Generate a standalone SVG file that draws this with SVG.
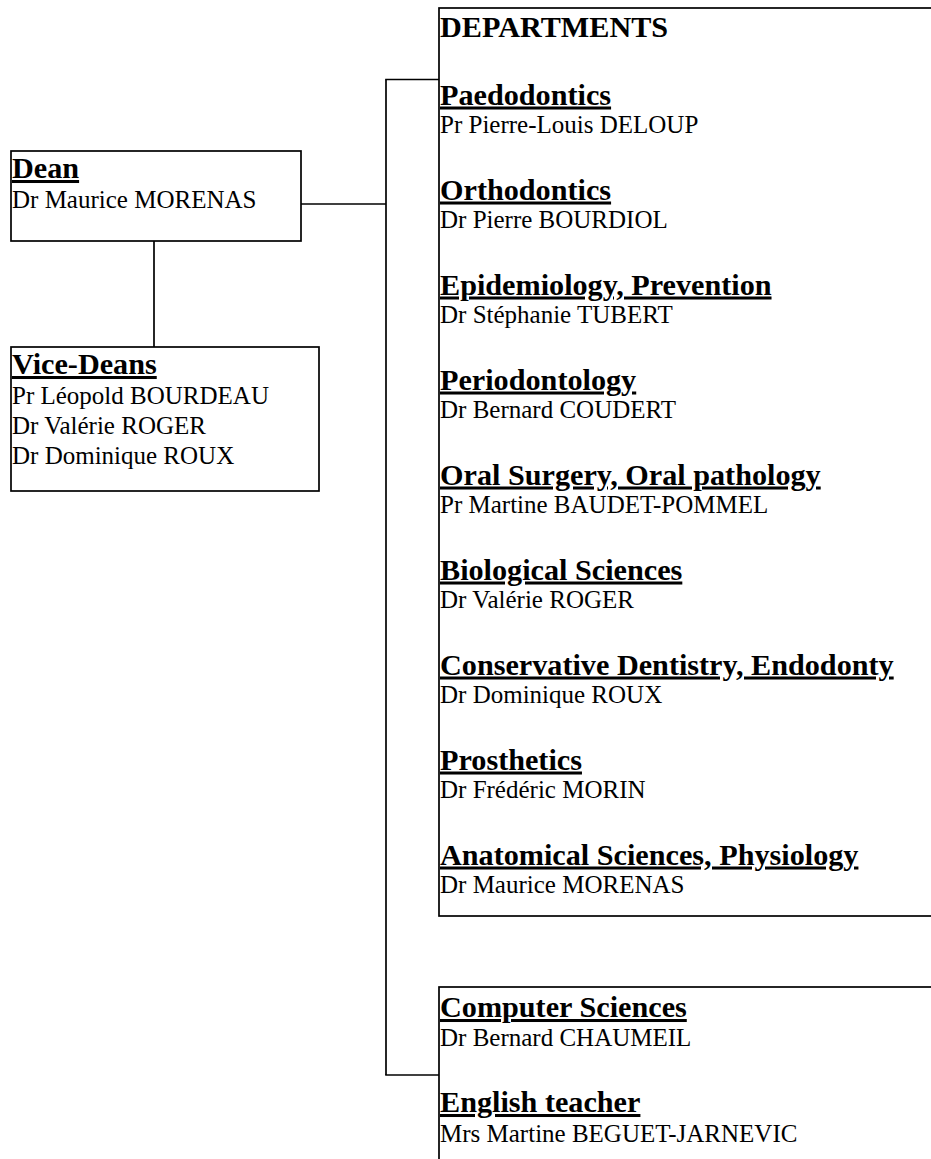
<svg xmlns="http://www.w3.org/2000/svg" width="931" height="1159" viewBox="0 0 931 1159">
<style>
.box{fill:#fff;stroke:#000;stroke-width:1.7}
.conn line{stroke:#000;stroke-width:1.7}
text{font-family:"Liberation Serif","Times New Roman",serif;fill:#000}
.h{font-weight:bold;font-size:30.2px;text-decoration:underline;text-decoration-thickness:3px;text-underline-offset:2px}
.t{font-weight:bold;font-size:30.2px}
.n{font-size:25px}
</style>
<rect width="931" height="1159" fill="#fff"/>
<g id="connectors" class="conn">
<line x1="154" y1="241" x2="154" y2="347"/>
<line x1="297" y1="204" x2="386" y2="204"/>
<line x1="386" y1="79.5" x2="386" y2="1075"/>
<line x1="385.2" y1="79.5" x2="439" y2="79.5"/>
<line x1="385.2" y1="1075" x2="439" y2="1075"/>
</g>
<g id="dean">
<rect class="box" x="11" y="151" width="290" height="90"/>
<text class="h" x="12" y="178">Dean</text>
<text class="n" x="12" y="208">Dr Maurice MORENAS</text>
</g>
<g id="vice-deans">
<rect class="box" x="11" y="347" width="308" height="144"/>
<text class="h" x="12" y="374">Vice-Deans</text>
<text class="n" x="12" y="404">Pr Léopold BOURDEAU</text>
<text class="n" x="12" y="434">Dr Valérie ROGER</text>
<text class="n" x="12" y="464">Dr Dominique ROUX</text>
</g>
<g id="departments">
<rect class="box" x="439" y="8" width="600" height="908"/>
<text class="t" x="440" y="37">DEPARTMENTS</text>
<text class="h" x="440" y="104.5">Paedodontics</text>
<text class="n" x="440" y="133">Pr Pierre-Louis DELOUP</text>
<text class="h" x="440" y="199.5">Orthodontics</text>
<text class="n" x="440" y="228">Dr Pierre BOURDIOL</text>
<text class="h" x="440" y="294.5">Epidemiology, Prevention</text>
<text class="n" x="440" y="323">Dr Stéphanie TUBERT</text>
<text class="h" x="440" y="389.5">Periodontology</text>
<text class="n" x="440" y="418">Dr Bernard COUDERT</text>
<text class="h" x="440" y="484.5">Oral Surgery, Oral pathology</text>
<text class="n" x="440" y="513">Pr Martine BAUDET-POMMEL</text>
<text class="h" x="440" y="579.5">Biological Sciences</text>
<text class="n" x="440" y="608">Dr Valérie ROGER</text>
<text class="h" x="440" y="674.5">Conservative Dentistry, Endodonty</text>
<text class="n" x="440" y="703">Dr Dominique ROUX</text>
<text class="h" x="440" y="769.5">Prosthetics</text>
<text class="n" x="440" y="798">Dr Frédéric MORIN</text>
<text class="h" x="440" y="864.5">Anatomical Sciences, Physiology</text>
<text class="n" x="440" y="893">Dr Maurice MORENAS</text>
</g>
<g id="other-staff">
<rect class="box" x="439" y="987" width="600" height="300"/>
<text class="h" x="440" y="1017">Computer Sciences</text>
<text class="n" x="440" y="1046">Dr Bernard CHAUMEIL</text>
<text class="h" x="440" y="1112">English teacher</text>
<text class="n" x="440" y="1141.5">Mrs Martine BEGUET-JARNEVIC</text>
</g>
</svg>
